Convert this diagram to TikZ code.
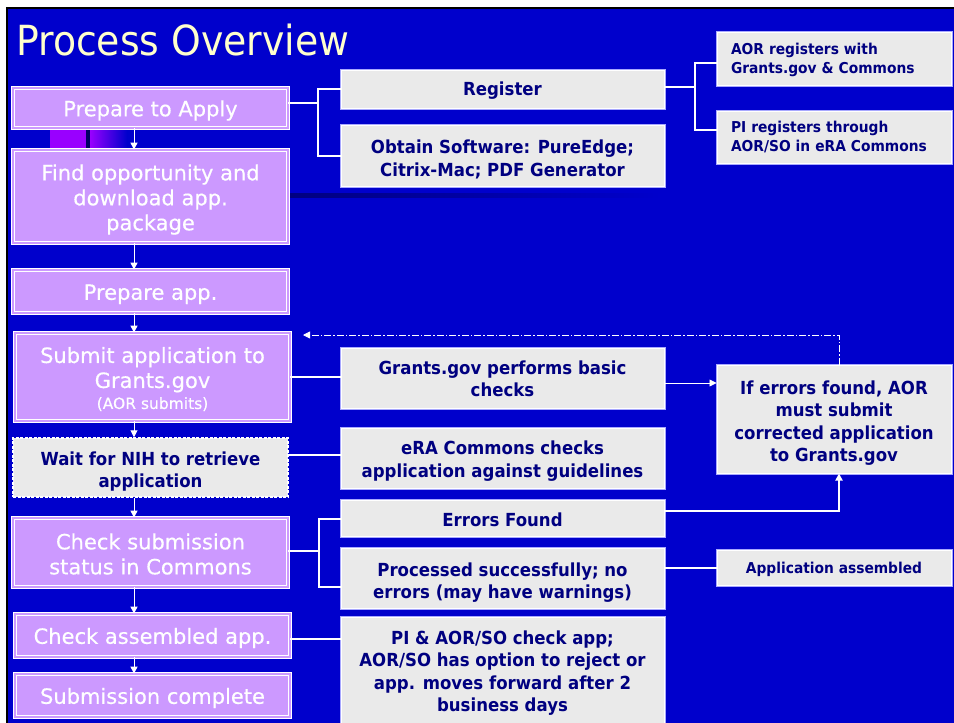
\documentclass[tikz,border=0pt]{standalone}
\usepackage{fontspec}
\setmainfont{DejaVu Sans}
\newfontfamily\verd{DejaVu Sans}[FakeBold=0.4]
\newfontfamily\tahoma{DejaVu Sans}[FakeStretch=0.92]
\newfontfamily\titlefont{DejaVu Sans}[FakeStretch=0.91]
\usetikzlibrary{arrows.meta}
\newcommand\lift[1]{\rule{0pt}{\dimexpr0.76em+#1*2\relax}}
\definecolor{bg}{HTML}{0000CC}
\definecolor{lav}{HTML}{CC99FF}
\definecolor{boxgray}{HTML}{EAEAEA}
\definecolor{navy}{HTML}{000080}
\definecolor{edge}{HTML}{A8A8FF}
\definecolor{ttl}{HTML}{FFFFCC}
\definecolor{vio}{HTML}{9900FF}
\begin{document}
\begin{tikzpicture}[x=1pt,y=-1pt,
  pbox/.style={draw=white, double=lav, double distance=2pt, line width=0.8pt,
    fill=lav, text=white, font=\verd\fontsize{21}{25}\selectfont, align=center,
    inner sep=0pt, minimum width=275pt},
  gbox/.style={fill=boxgray, draw=white, line width=1pt,
    preaction={draw=edge, line width=3pt}, text=navy,
    font=\tahoma\bfseries\fontsize{18}{22.5}\selectfont, align=center,
    inner sep=0pt},
  midbox/.style={gbox, minimum width=323pt},
  rbox/.style={gbox, minimum width=234pt},
  waitbox/.style={fill=boxgray, draw=white, line width=1.5pt,
    dash pattern=on 3pt off 1.5pt, text=navy,
    font=\tahoma\bfseries\fontsize{18}{22.5}\selectfont, align=center,
    inner sep=0pt, minimum width=275pt},
  conn/.style={draw=white, line width=2pt},
  varrow/.style={draw=white, line width=1pt, -{Triangle[width=7pt,length=7pt]}},
  harrow/.style={draw=white, line width=0.8pt, -{Triangle[width=7pt,length=7pt]}},
  ddarrow/.style={draw=white, line width=0.8pt,
    dash pattern=on 7pt off 2pt on 1.5pt off 2pt, -{Triangle[width=7pt,length=7pt]}}
]
\clip (0,0) rectangle (954,723);
\useasboundingbox (0,0) rectangle (954,723);
\fill[white] (0,0) rectangle (954,723);
\fill[bg] (7,8) rectangle (954,723);
\draw[black, line width=2pt] (7,723) -- (7,8) -- (954,8);

% decorative blocks
\fill[vio] (50,129) rectangle (86,150);
\fill[black!60!blue] (86,129) rectangle (90,150);
\shade[left color=vio, right color=bg] (90,129) rectangle (127,150);
\shade[left color=blue!50!black, right color=bg] (290,193) rectangle (660,197);

% title
\node[anchor=base west, inner sep=0pt, text=ttl, font=\titlefont\fontsize{41.5}{48}\selectfont]
  (title) at (16,55) {Process Overview};

% left column
\node[pbox, minimum height=40pt] (prep) at (150.5,108) {\lift{2.5pt}Prepare to Apply};
\node[pbox, minimum height=93pt] (find) at (150.5,196.5) {\lift{3pt}Find opportunity and\\download app.\\package};
\node[pbox, minimum height=43pt] (prepapp) at (150.5,291.5) {\lift{2.5pt}Prepare app.};
\node[pbox, minimum height=88pt] (submit) at (152.5,377) {\lift{2pt}Submit application to\\Grants.gov\\[-4pt]{\fontsize{15.5}{18}\selectfont (AOR submits)}};
\node[waitbox, minimum height=59pt] (wait) at (150.5,467.5) {\lift{4pt}Wait for NIH to retrieve\\application};
\node[pbox, minimum height=69pt] (checksub) at (150.5,552.5) {\lift{1.5pt}Check submission\\status in Commons};
\node[pbox, minimum height=43pt] (checkasm) at (152.5,635.5) {\lift{2.5pt}Check assembled app.};
\node[pbox, minimum height=43pt] (complete) at (152.5,695.5) {\lift{2.5pt}Submission complete};

% middle column
\node[midbox, minimum height=38pt] (register) at (502.5,89) {\lift{2pt}Register};
\node[midbox, minimum height=61pt] (obtain) at (502.5,155.5) {\lift{4pt}Obtain Software: PureEdge;\\Citrix-Mac; PDF Generator};
\node[midbox, minimum height=60pt] (ggcheck) at (502.5,378) {\lift{1pt}Grants.gov performs basic\\checks};
\node[midbox, minimum height=60pt] (era) at (502.5,458) {\lift{3pt}eRA Commons checks\\application against guidelines};
\node[midbox, minimum height=36pt] (errfound) at (502.5,518) {\lift{2pt}Errors Found};
\node[midbox, minimum height=60pt] (processed) at (502.5,578) {\lift{4.5pt}Processed successfully; no\\errors (may have warnings)};
\node[midbox, minimum height=108pt] (picheck) at (502.5,671) {\lift{2pt}PI \& AOR/SO check app;\\AOR/SO has option to reject or\\app. moves forward after 2\\business days};

% right column
\node[rbox, minimum height=53pt, align=left, text width=206pt,
  font=\tahoma\bfseries\fontsize{15}{19}\selectfont] (aor) at (834,58.5)
  {\lift{1pt}AOR registers with\\Grants.gov \& Commons};
\node[rbox, minimum height=52pt, align=left, text width=206pt,
  font=\tahoma\bfseries\fontsize{15}{19}\selectfont] (pireg) at (834,137)
  {PI registers through\\AOR/SO in eRA Commons};
\node[rbox, minimum height=108pt] (iferr) at (834,419)
  {\lift{4pt}If errors found, AOR\\must submit\\corrected application\\to Grants.gov};
\node[rbox, minimum height=35pt, font=\tahoma\bfseries\fontsize{15}{19}\selectfont]
  (appasm) at (834,567.5) {\lift{1.5pt}Application assembled};

% helper coordinates
\coordinate (ax) at (134,0);
\coordinate (b1) at (318,103);
\coordinate (b2) at (695,87);
\coordinate (b3) at (319,551);
\coordinate (ddend) at (303,335);

% vertical arrows
\draw[varrow] (prep.south -| ax) -- (find.north -| ax);
\draw[varrow] (find.south -| ax) -- (prepapp.north -| ax);
\draw[varrow] (prepapp.south -| ax) -- (submit.north -| ax);
\draw[varrow] (submit.south -| ax) -- (wait.north -| ax);
\draw[varrow] (wait.south -| ax) -- (checksub.north -| ax);
\draw[varrow] (checksub.south -| ax) -- (checkasm.north -| ax);
\draw[varrow] (checkasm.south -| ax) -- (complete.north -| ax);

% brackets and connectors
\draw[conn] (prep.east |- b1) -- (b1);
\draw[conn] ([yshift=0pt]register.west) -| (b1) |- ([yshift=-0.5pt]obtain.west);
\draw[conn] (register.east |- b2) -- (b2);
\draw[conn] ([yshift=-4.5pt]aor.west) -| (b2) |- ([yshift=7pt]pireg.west);
\draw[conn] (submit.east) -- (submit.east -| ggcheck.west);
\draw[harrow] ([yshift=-5pt]ggcheck.east) -- ([yshift=-5pt]ggcheck.east -| iferr.west);
\draw[ddarrow] ([xshift=5pt]iferr.north) |- (ddend);
\draw[conn] ([yshift=3pt]era.west -| wait.east) -- ([yshift=3pt]era.west);
\draw[harrow, line width=2pt] ([yshift=7pt]errfound.east) -| ([xshift=5pt]iferr.south);
\draw[conn] (checksub.east |- b3) -- (b3);
\draw[conn] ([yshift=-1pt]errfound.west) -| (b3) |- ([yshift=-9pt]processed.west);
\draw[conn] (appasm.west -| processed.east) -- (appasm.west);
\draw[conn] ([yshift=-3.5pt]checkasm.east) -- ([yshift=-3.5pt]checkasm.east -| picheck.west);
\end{tikzpicture}
\end{document}
